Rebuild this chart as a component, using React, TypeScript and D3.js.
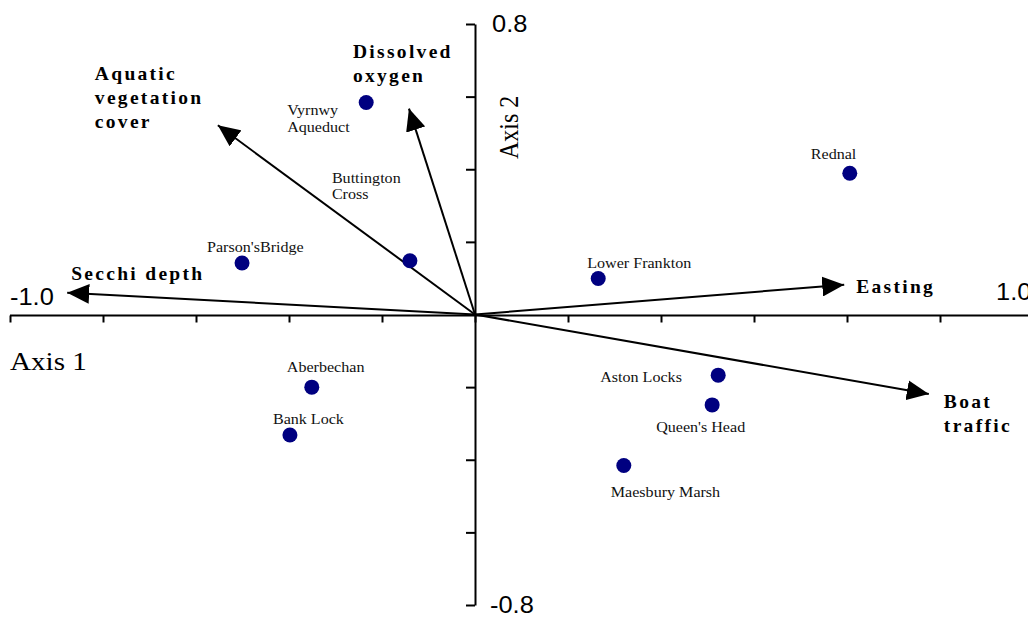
import * as d3 from 'd3';
import { useEffect, useRef } from 'react';

// site scores (axis 1, axis 2)
const sites = [
  'Vyrnwy\nAqueduct',
  'Buttington\nCross',
  "Parson'sBridge",
  'Rednal',
  'Lower Frankton',
  'Aberbechan',
  'Bank Lock',
  'Aston Locks',
  "Queen's Head",
  'Maesbury Marsh',
];
const siteAxis1 = [-0.234, -0.14, -0.501, 0.806, 0.265, -0.351, -0.398, 0.523, 0.51, 0.32];
const siteAxis2 = [0.584, 0.148, 0.142, 0.389, 0.099, -0.2, -0.332, -0.167, -0.249, -0.416];

// environmental variable vectors
const variables = ['Secchi depth', 'Easting', 'Boat\ntraffic', 'Aquatic\nvegetation\ncover', 'Dissolved\noxygen'];
const varAxis1 = [-0.877, 0.794, 0.976, -0.553, -0.142];
const varAxis2 = [0.06, 0.082, -0.219, 0.521, 0.567];

const xTicks = [-1, -0.8, -0.6, -0.4, -0.2, 0, 0.2, 0.4, 0.6, 0.8, 1];
const yTicks = [-0.8, -0.6, -0.4, -0.2, 0, 0.2, 0.4, 0.6, 0.8];

// label placement relative to marker / arrow tip (layout only)
const siteLabelOffsets = [
  [-79, 13], [-78, -78], [-35, -11], [-39, -14], [-11, -11],
  [-25, -15], [-17, -11], [-118, 7], [-56, 27], [-13, 31],
];
const varLabelOffsets = [[4, -13], [12, 8], [15, 14], [-123, -45], [-56, -51]];

const W = 1028;
const H = 617;
const serif = '"Liberation Serif", "Times New Roman", serif';
const sans = '"Liberation Sans", Arial, sans-serif';

export default function App() {
  const ref = useRef<SVGSVGElement>(null);

  useEffect(() => {
    const svg = d3.select(ref.current);
    svg.selectAll('*').remove();

    const x = d3.scaleLinear().domain([-1, 1]).range([10, 940]);
    const y = d3.scaleLinear().domain([-0.8, 0.8]).range([605, 24]);
    const x0 = x(0);
    const y0 = y(0);

    svg
      .append('defs')
      .append('marker')
      .attr('id', 'head')
      .attr('markerUnits', 'userSpaceOnUse')
      .attr('viewBox', '0 0 22 20')
      .attr('markerWidth', 22)
      .attr('markerHeight', 20)
      .attr('refX', 22)
      .attr('refY', 10)
      .attr('orient', 'auto')
      .append('path')
      .attr('d', 'M0,0L22,10L0,20Z')
      .attr('fill', '#000');

    // x axis
    const xAxis = svg
      .append('g')
      .attr('transform', `translate(0,${y0 + 1})`)
      .call(d3.axisBottom(x).tickValues(xTicks).tickSize(7).tickFormat(() => ''));
    xAxis.select('.domain').remove();
    xAxis.selectAll('line').attr('stroke', '#000').attr('stroke-width', 2);
    svg
      .append('line')
      .attr('x1', x(-1))
      .attr('x2', W)
      .attr('y1', y0 + 1)
      .attr('y2', y0 + 1)
      .attr('stroke', '#000')
      .attr('stroke-width', 2);

    // y axis
    const yAxis = svg
      .append('g')
      .attr('transform', `translate(${x0},0)`)
      .call(d3.axisLeft(y).tickValues(yTicks).tickSize(9).tickSizeOuter(0).tickFormat(() => ''));
    yAxis.select('.domain').attr('stroke', '#000').attr('stroke-width', 2);
    yAxis.selectAll('line').attr('stroke', '#000').attr('stroke-width', 2);

    // axis end labels
    const endLabels = [
      { t: '-1.0', x: 10, y: 305 },
      { t: '1.0', x: 996, y: 300 },
      { t: '0.8', x: 492, y: 32 },
      { t: '-0.8', x: 490, y: 613 },
    ];
    svg
      .selectAll('.endlab')
      .data(endLabels)
      .enter()
      .append('text')
      .attr('transform', (d) => `translate(${d.x},${d.y}) scale(1.06,1)`)
      .style('font-family', sans)
      .style('font-size', '24px')
      .text((d) => d.t);

    svg
      .append('text')
      .attr('transform', 'translate(10,370) scale(1.12,1)')
      .style('font-family', serif)
      .style('font-size', '26px')
      .text('Axis 1');
    svg
      .append('text')
      .attr('transform', 'translate(518,159) rotate(-90) scale(1,1.12)')
      .style('font-family', serif)
      .style('font-size', '24px')
      .text('Axis 2');

    // variable arrows
    const vars = variables.map((v, i) => ({ v, a: varAxis1[i], b: varAxis2[i], off: varLabelOffsets[i] }));
    svg
      .selectAll('.arrow')
      .data(vars)
      .enter()
      .append('line')
      .attr('x1', x0)
      .attr('y1', y0)
      .attr('x2', (d) => x(d.a))
      .attr('y2', (d) => y(d.b))
      .attr('stroke', '#000')
      .attr('stroke-width', 2)
      .attr('marker-end', 'url(#head)');

    const vl = svg
      .selectAll('.varlab')
      .data(vars)
      .enter()
      .append('text')
      .attr('transform', (d) => `translate(${x(d.a) + d.off[0]},${y(d.b) + d.off[1]})`)
      .style('font-family', serif)
      .style('font-weight', 'bold')
      .style('font-size', '19.5px')
      .style('letter-spacing', '2.3px');
    vl.selectAll('tspan')
      .data((d) => d.v.split('\n'))
      .enter()
      .append('tspan')
      .attr('x', 0)
      .attr('dy', (_d, i) => (i === 0 ? 0 : 24))
      .text((d) => d);

    // sites
    const pts = sites.map((s, i) => ({ s, a: siteAxis1[i], b: siteAxis2[i], off: siteLabelOffsets[i] }));
    svg
      .selectAll('.site')
      .data(pts)
      .enter()
      .append('circle')
      .attr('cx', (d) => x(d.a))
      .attr('cy', (d) => y(d.b))
      .attr('r', 7.5)
      .attr('fill', '#000080');

    const sl = svg
      .selectAll('.sitelab')
      .data(pts)
      .enter()
      .append('text')
      .attr('transform', (d) => `translate(${x(d.a) + d.off[0]},${y(d.b) + d.off[1]}) scale(1.11,1)`)
      .style('font-family', serif)
      .style('font-size', '14.5px')
      .attr('fill', '#111');
    sl.selectAll('tspan')
      .data((d) => d.s.split('\n'))
      .enter()
      .append('tspan')
      .attr('x', 0)
      .attr('dy', (_d, i) => (i === 0 ? 0 : 16.5))
      .text((d) => d);
  }, []);

  return <svg ref={ref} width={W} height={H} style={{ position: 'absolute', left: 0, top: 0, background: '#fff' }} />;
}
